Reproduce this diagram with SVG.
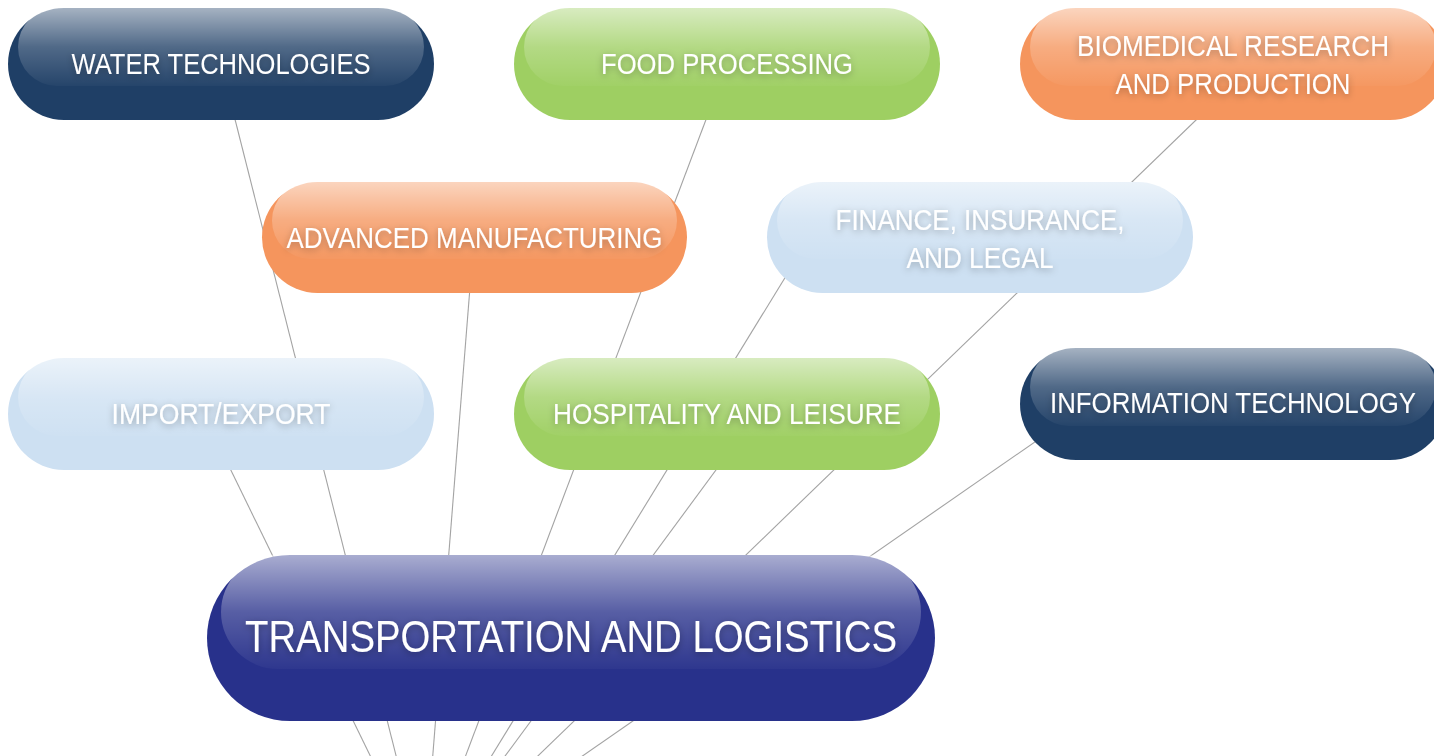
<svg xmlns="http://www.w3.org/2000/svg" width="1434" height="756" viewBox="0 0 1434 756">
<style>
.bg{fill:#ffffff}
.conn line{stroke:#a3a3a3;stroke-width:1.1;fill:none}
.navy{fill:#1f3f66}
.green{fill:#9ecf62}
.orange{fill:#f5955d}
.lblue{fill:#cde0f2}
.indigo{fill:#28318b}
.gloss{fill:url(#gloss)}
.lbl{font-family:"Liberation Sans",Arial,sans-serif;font-size:30px;fill:#ffffff;text-anchor:middle;filter:url(#tshadow)}
.big{font-size:45px}
</style>
<defs>
<linearGradient id="gloss" x1="0" y1="0" x2="0" y2="1">
<stop offset="0" stop-color="#ffffff" stop-opacity="0.6"/>
<stop offset="0.5" stop-color="#ffffff" stop-opacity="0.22"/>
<stop offset="1" stop-color="#ffffff" stop-opacity="0.03"/>
</linearGradient>
<filter id="tshadow" x="-20%" y="-50%" width="140%" height="200%">
<feGaussianBlur in="SourceAlpha" stdDeviation="3.5"/>
<feOffset dx="0" dy="2" result="b"/>
<feFlood flood-color="#000000" flood-opacity="0.3"/>
<feComposite in2="b" operator="in" result="s"/>
<feMerge><feMergeNode in="s"/><feMergeNode in="SourceGraphic"/></feMerge>
</filter>
</defs>
<rect class="bg" x="0" y="0" width="1434" height="756"/>
<g id="connectors" class="conn">
<line x1="424" y1="866" x2="221" y2="64"/>
<line x1="424" y1="866" x2="727" y2="64"/>
<line x1="424" y1="866" x2="1254" y2="64"/>
<line x1="424" y1="866" x2="474" y2="237"/>
<line x1="424" y1="866" x2="802" y2="250"/>
<line x1="424" y1="866" x2="203" y2="413"/>
<line x1="424" y1="866" x2="758" y2="413"/>
<line x1="424" y1="866" x2="1091" y2="403"/>
</g>
<g id="water">
<rect class="navy" x="8" y="8" width="426" height="112" rx="56"/>
<rect class="gloss" x="18" y="8" width="406" height="78" rx="39"/>
<text class="lbl" x="221" y="74" textLength="299" lengthAdjust="spacingAndGlyphs">WATER TECHNOLOGIES</text>
</g>
<g id="food">
<rect class="green" x="514" y="8" width="426" height="112" rx="56"/>
<rect class="gloss" x="524" y="8" width="406" height="78" rx="39"/>
<text class="lbl" x="727" y="74" textLength="252" lengthAdjust="spacingAndGlyphs">FOOD PROCESSING</text>
</g>
<g id="biomedical">
<rect class="orange" x="1020" y="8" width="426" height="112" rx="56"/>
<rect class="gloss" x="1030" y="8" width="406" height="78" rx="39"/>
<text class="lbl" x="1233" y="56" textLength="312" lengthAdjust="spacingAndGlyphs">BIOMEDICAL RESEARCH</text>
<text class="lbl" x="1233" y="94" textLength="235" lengthAdjust="spacingAndGlyphs">AND PRODUCTION</text>
</g>
<g id="advanced">
<rect class="orange" x="262" y="182" width="425" height="111" rx="55.5"/>
<rect class="gloss" x="272" y="182" width="405" height="77" rx="38.5"/>
<text class="lbl" x="474.5" y="248" textLength="376" lengthAdjust="spacingAndGlyphs">ADVANCED MANUFACTURING</text>
</g>
<g id="finance">
<rect class="lblue" x="767" y="182" width="426" height="111" rx="55.5"/>
<rect class="gloss" x="777" y="182" width="406" height="77" rx="38.5"/>
<text class="lbl" x="980" y="230" textLength="289" lengthAdjust="spacingAndGlyphs">FINANCE, INSURANCE,</text>
<text class="lbl" x="980" y="268" textLength="147" lengthAdjust="spacingAndGlyphs">AND LEGAL</text>
</g>
<g id="import">
<rect class="lblue" x="8" y="358" width="426" height="112" rx="56"/>
<rect class="gloss" x="18" y="358" width="406" height="78" rx="39"/>
<text class="lbl" x="221" y="424" textLength="219" lengthAdjust="spacingAndGlyphs">IMPORT/EXPORT</text>
</g>
<g id="hospitality">
<rect class="green" x="514" y="358" width="426" height="112" rx="56"/>
<rect class="gloss" x="524" y="358" width="406" height="78" rx="39"/>
<text class="lbl" x="727" y="424" textLength="348" lengthAdjust="spacingAndGlyphs">HOSPITALITY AND LEISURE</text>
</g>
<g id="it">
<rect class="navy" x="1020" y="348" width="426" height="112" rx="56"/>
<rect class="gloss" x="1030" y="348" width="406" height="78" rx="39"/>
<text class="lbl" x="1233" y="413" textLength="366" lengthAdjust="spacingAndGlyphs">INFORMATION TECHNOLOGY</text>
</g>
<g id="transportation">
<rect class="indigo" x="207" y="555" width="728" height="166" rx="83"/>
<rect class="gloss" x="221" y="555" width="700" height="114" rx="57"/>
<text class="lbl big" x="571" y="652" textLength="652" lengthAdjust="spacingAndGlyphs">TRANSPORTATION AND LOGISTICS</text>
</g>
</svg>
